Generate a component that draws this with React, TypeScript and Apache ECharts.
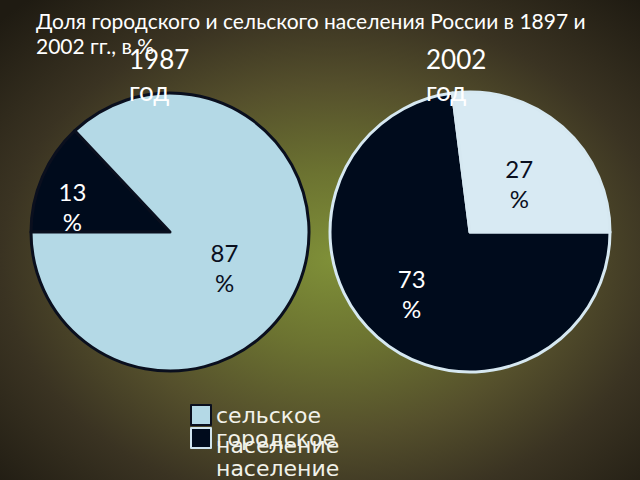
import React, { useEffect, useRef } from "react";
import * as echarts from "echarts";

const categories = ["городское население", "сельское население"];
const legendOrder = ["сельское население", "городское население"];
const values1897 = [13, 87];
const values2002 = [73, 27];
const yearLabels = ["1987\nгод", "2002\nгод"];
const titleText = "Доля городского и сельского населения России в 1897 и\n2002 гг., в %";

const DARK = "#000b1c";
const LIGHT1 = "#b4d9e6";
const LIGHT2 = "#d8eaf3";
const FONT = "Lato, 'Open Sans', sans-serif";

export default function App() {
  const ref = useRef<HTMLDivElement>(null);
  useEffect(() => {
    if (!ref.current) return;
    const chart = echarts.init(ref.current, undefined, { renderer: "svg" });
    const labelStyle = {
      show: true,
      position: "inside",
      formatter: "{c}\n%",
      fontSize: 24,
      lineHeight: 30,
      fontFamily: FONT,
    };
    const leftOffsets = [
      [-31, 3],
      [-12, 7],
    ];
    const rightOffsets = [
      [-10, 7],
      [1, 6],
    ];
    const yearStyle = {
      color: "#ffffff",
      fontSize: 26,
      fontWeight: "normal",
      lineHeight: 32,
      fontFamily: FONT,
    };
    chart.setOption({
      animation: false,
      backgroundColor: "#1f1b12",
      graphic: [
        {
          type: "rect",
          z: -100,
          silent: true,
          shape: { x: 0, y: 0, width: 640, height: 480 },
          style: {
            fill: new echarts.graphic.RadialGradient(0.52, 0.54, 0.72, [
              { offset: 0, color: "#7f9038" },
              { offset: 0.25, color: "#6c7331" },
              { offset: 0.5, color: "#55502c" },
              { offset: 0.72, color: "#3a3322" },
              { offset: 1, color: "#1f1b12" },
            ]),
          },
        },
      ],
      title: [
        {
          text: titleText,
          left: 36,
          top: 8,
          padding: 0,
          textStyle: {
            color: "#ffffff",
            fontSize: 21,
            fontWeight: "normal",
            lineHeight: 25,
            fontFamily: FONT,
          },
        },
        { text: yearLabels[0], left: 129, top: 43, padding: 0, textStyle: yearStyle },
        { text: yearLabels[1], left: 426, top: 43, padding: 0, textStyle: yearStyle },
      ],
      legend: [0, 1].map((i) => ({
        orient: "vertical",
        left: 190,
        top: i === 0 ? 370 : 393,
        padding: 0,
        itemWidth: 20,
        itemHeight: 20,
        icon: "rect",
        selectedMode: false,
        formatter: (name: string) => "\n" + name.replace(" ", "\n"),
        textStyle: {
          color: "#f2f2ea",
          fontSize: 22,
          lineHeight: 30,
          fontFamily: "'DejaVu Sans', sans-serif",
        },
        data: [
          {
            name: legendOrder[i],
            itemStyle:
              i === 0
                ? { color: LIGHT1, borderColor: "#0a0f1e", borderWidth: 2 }
                : { color: DARK, borderColor: "#d0e4ee", borderWidth: 2 },
          },
        ],
      })),
      series: [
        {
          type: "pie",
          center: [170, 232],
          radius: [0, 139],
          startAngle: 180,
          clockwise: true,
          silent: true,
          emphasis: { disabled: true },
          itemStyle: { borderColor: "#0a0f1e", borderWidth: 3 },
          label: labelStyle,
          labelLine: { show: false },
          labelLayout: (p: any) => ({
            dx: leftOffsets[p.dataIndex][0],
            dy: leftOffsets[p.dataIndex][1],
          }),
          data: categories.map((name, i) => ({
            name,
            value: values1897[i],
            itemStyle: { color: i === 0 ? DARK : LIGHT1 },
            label: { color: i === 0 ? "#ffffff" : "#0a0f1e" },
          })),
        },
        {
          type: "pie",
          center: [470, 232],
          radius: [0, 140],
          startAngle: 0,
          clockwise: true,
          silent: true,
          emphasis: { disabled: true },
          itemStyle: { borderColor: "#d6e8f1", borderWidth: 3 },
          label: labelStyle,
          labelLine: { show: false },
          labelLayout: (p: any) => ({
            dx: rightOffsets[p.dataIndex][0],
            dy: rightOffsets[p.dataIndex][1],
          }),
          data: categories.map((name, i) => ({
            name,
            value: values2002[i],
            itemStyle: { color: i === 0 ? DARK : LIGHT2 },
            label: { color: i === 0 ? "#ffffff" : "#0a0f1e" },
          })),
        },
      ],
    });
    return () => chart.dispose();
  }, []);
  return (
    <div
      ref={ref}
      style={{ position: "fixed", left: 0, top: 0, width: 640, height: 480 }}
    />
  );
}
